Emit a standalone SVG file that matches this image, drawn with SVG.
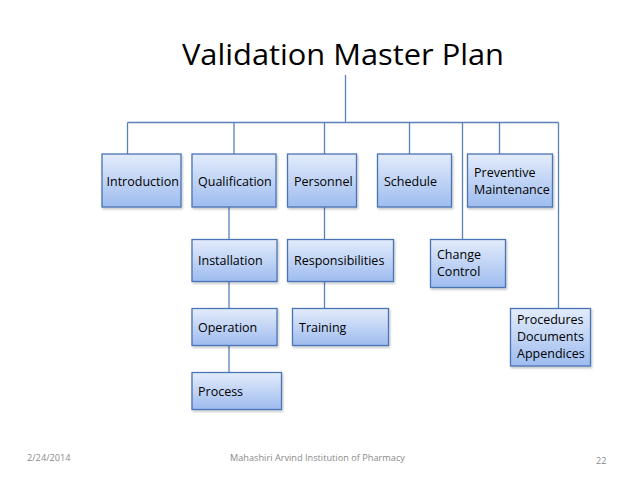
<svg xmlns="http://www.w3.org/2000/svg" width="638" height="479" viewBox="0 0 638 479">
<defs>
<linearGradient id="g" x1="0" y1="0" x2="0" y2="1">
<stop offset="0" stop-color="#e3ecfb"/>
<stop offset="1" stop-color="#9ebcef"/>
</linearGradient>
<filter id="sh" x="-10%" y="-10%" width="130%" height="140%">
<feDropShadow dx="1" dy="1.5" stdDeviation="1" flood-color="#000" flood-opacity="0.25"/>
</filter>
</defs>
<style>
.box{fill:url(#g);stroke:#4a74b4;stroke-width:1.3;filter:url(#sh)}
.t{font-family:"Open Sans","Liberation Sans",sans-serif;font-size:12.5px;fill:#000}
.c{fill:none;stroke:#5a80bb;stroke-width:1.3}
.f{font-family:"Open Sans","Liberation Sans",sans-serif;font-size:9.2px;fill:#8a8a8a}
</style>
<rect width="638" height="479" fill="#fff"/>
<text x="343" y="65" text-anchor="middle" font-family="Open Sans, Liberation Sans, sans-serif" font-size="30" textLength="322" lengthAdjust="spacingAndGlyphs">Validation Master Plan</text>
<g id="connectors">
<path class="c" d="M345.5 75V122.5M127.5 122.5H558.5M127.5 122.5V154M234 122.5V154M324.5 122.5V154M409.5 122.5V154M462.5 122.5V239M499.5 122.5V154M558.5 122.5V308"/>
<path class="c" d="M229 207V239M229 282V308M229 346V372M324.5 207V239M324.5 282V308"/>
</g>
<g id="introduction"><rect class="box" x="102" y="154" width="79" height="53"/><text class="t" x="106.5" y="186">Introduction</text></g>
<g id="qualification"><rect class="box" x="192" y="154" width="84" height="53"/><text class="t" x="198" y="186">Qualification</text></g>
<g id="personnel"><rect class="box" x="287.5" y="154" width="69" height="53"/><text class="t" x="294" y="186">Personnel</text></g>
<g id="schedule"><rect class="box" x="377.5" y="154" width="74" height="53"/><text class="t" x="384" y="186">Schedule</text></g>
<g id="preventive"><rect class="box" x="467.5" y="154" width="85" height="53"/><text class="t" x="474" y="177">Preventive</text><text class="t" x="474" y="194">Maintenance</text></g>
<g id="installation"><rect class="box" x="192" y="239.5" width="85" height="42"/><text class="t" x="198" y="265">Installation</text></g>
<g id="responsibilities"><rect class="box" x="287.5" y="239.5" width="106" height="42"/><text class="t" x="294" y="265">Responsibilities</text></g>
<g id="operation"><rect class="box" x="192" y="308.5" width="85" height="37"/><text class="t" x="198" y="332">Operation</text></g>
<g id="training"><rect class="box" x="292.5" y="308.5" width="96" height="37"/><text class="t" x="299" y="332">Training</text></g>
<g id="process"><rect class="box" x="192" y="372.5" width="89.5" height="37"/><text class="t" x="198" y="396">Process</text></g>
<g id="change-control"><rect class="box" x="430.5" y="239.5" width="75" height="48"/><text class="t" x="437" y="259">Change</text><text class="t" x="437" y="276">Control</text></g>
<g id="procedures"><rect class="box" x="510.5" y="308.5" width="80" height="57.5"/><text class="t" x="517" y="324">Procedures</text><text class="t" x="517" y="341">Documents</text><text class="t" x="517" y="358">Appendices</text></g>
<text class="f" x="27" y="461">2/24/2014</text>
<text class="f" x="230" y="461">Mahashiri Arvind Institution of Pharmacy</text>
<text class="f" x="596" y="464">22</text>
</svg>
